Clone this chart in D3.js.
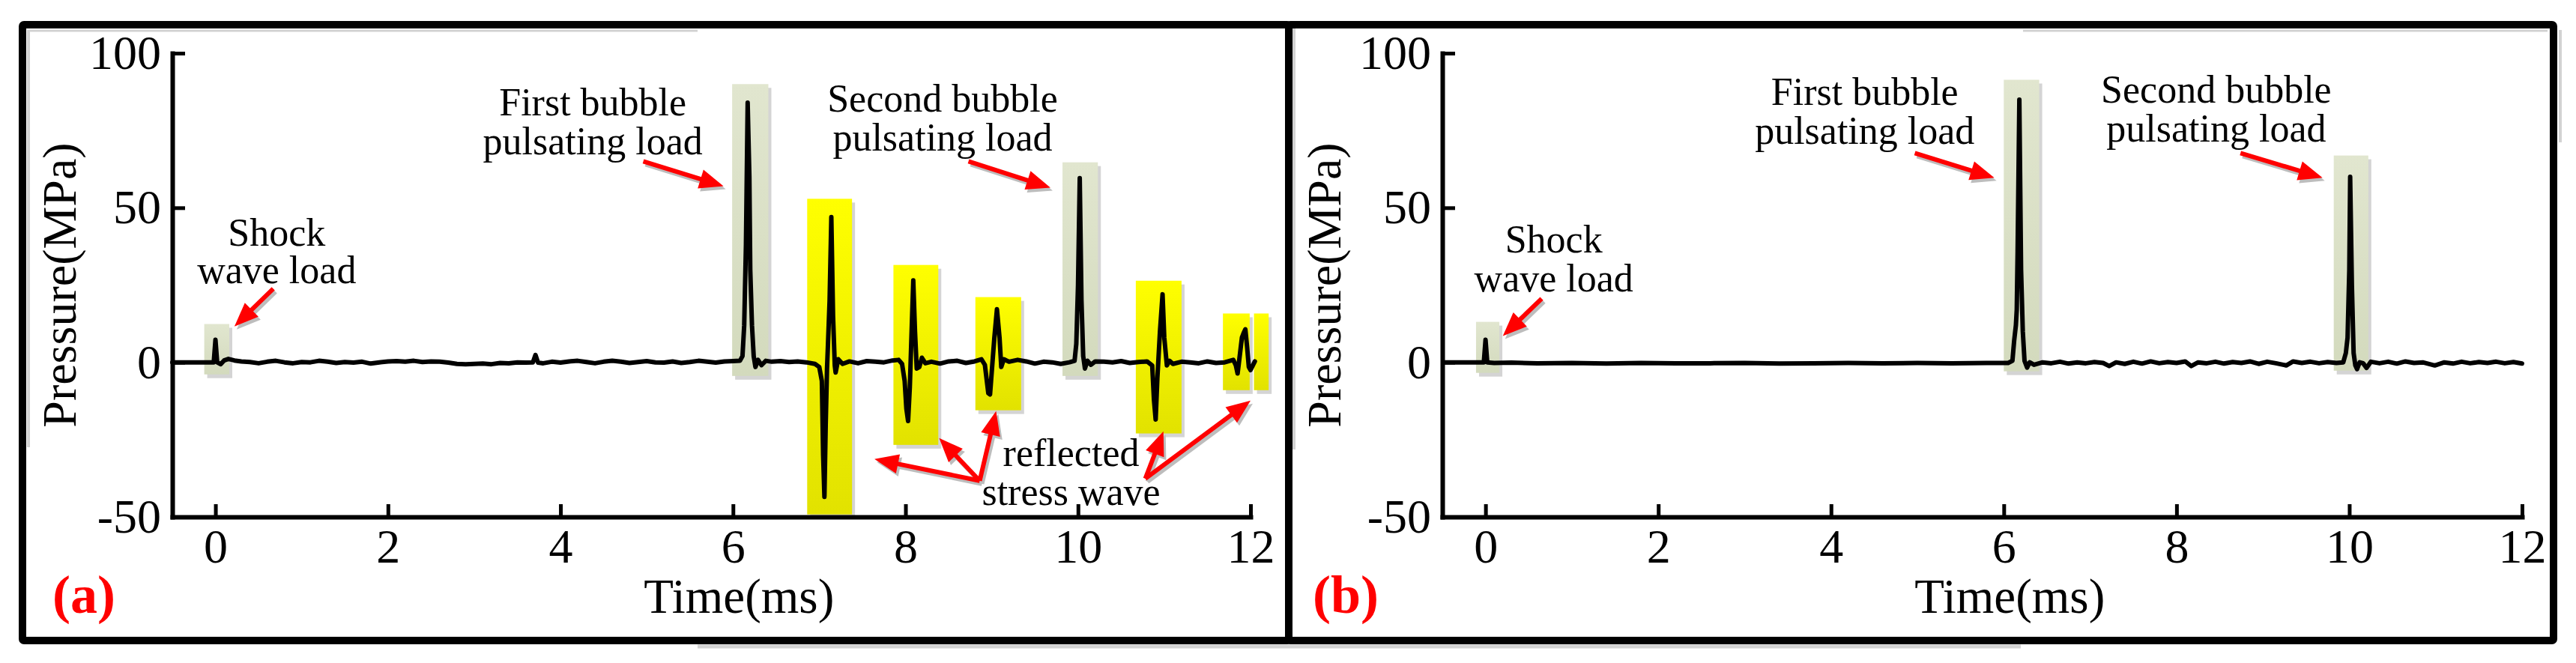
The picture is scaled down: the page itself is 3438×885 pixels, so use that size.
<!DOCTYPE html>
<html><head><meta charset="utf-8">
<script src="https://cdn.jsdelivr.net/npm/d3@7"></script>
<style>
html,body{margin:0;padding:0;background:#fff;}
svg{display:block;}
text{font-family:"Liberation Serif","Times New Roman",Times,serif;}
</style>
</head><body>
<svg id="chart" width="3438" height="885"></svg>
<script>
// ---------------- DATA ----------------
const xTicks = [0, 2, 4, 6, 8, 10, 12];
const yTicks = [-50, 0, 50, 100];
const xLabel = "Time(ms)";
const yLabel = "Pressure(MPa)";
const panelTags = ["(a)", "(b)"];

// Panel (a): pressure history with reflected stress waves
const timeA = [-0.50,-0.20,-0.02,0.00,0.02,0.06,0.10,0.15,0.22,0.30,0.40,0.50,0.60,0.70,0.80,0.90,1.00,1.10,1.20,1.30,1.40,1.50,1.60,1.70,1.80,1.90,2.00,2.10,2.20,2.30,2.40,2.50,2.60,2.70,2.80,2.90,3.00,3.10,3.20,3.30,3.40,3.50,3.60,3.68,3.71,3.74,3.80,3.90,4.00,4.10,4.20,4.30,4.40,4.50,4.60,4.70,4.80,4.90,5.00,5.10,5.20,5.30,5.40,5.50,5.60,5.70,5.80,5.90,6.00,6.08,6.11,6.13,6.15,6.17,6.19,6.20,6.22,6.24,6.26,6.29,6.33,6.38,6.45,6.55,6.65,6.75,6.85,6.95,7.00,7.03,7.045,7.06,7.075,7.09,7.10,7.12,7.14,7.16,7.18,7.19,7.22,7.27,7.35,7.45,7.55,7.65,7.75,7.85,7.92,7.96,7.99,8.01,8.03,8.05,8.065,8.08,8.09,8.11,8.13,8.16,8.19,8.23,8.30,8.40,8.50,8.60,8.70,8.80,8.88,8.92,8.96,8.98,9.00,9.03,9.06,9.09,9.11,9.14,9.20,9.30,9.40,9.50,9.60,9.70,9.80,9.90,9.96,9.98,10.00,10.02,10.04,10.06,10.08,10.11,10.15,10.20,10.30,10.40,10.50,10.60,10.70,10.80,10.86,10.88,10.90,10.92,10.95,10.98,11.00,11.03,11.06,11.10,11.20,11.30,11.40,11.50,11.60,11.70,11.80,11.83,11.85,11.87,11.90,11.92,11.94,11.96,11.98,12.00,12.05];
const pressureA = [0.0,0.0,0.0,7.3,0.0,-0.6,0.6,1.1,0.6,0.3,0.1,-0.3,0.2,0.5,0.0,-0.3,0.1,0.0,0.5,0.2,-0.2,0.1,-0.1,0.2,-0.4,0.0,0.3,0.4,0.2,0.5,0.1,0.3,0.2,-0.1,-0.5,-0.6,-0.5,-0.4,-0.6,-0.2,-0.3,0.0,-0.1,0.0,2.4,-0.1,-0.3,0.2,-0.1,0.3,0.5,0.1,-0.3,0.2,0.5,0.2,-0.2,0.1,0.4,0.0,-0.1,0.3,-0.2,0.1,0.5,0.2,-0.1,0.3,0.4,0.5,2.0,12.0,38.0,84.0,60.0,30.0,12.0,2.0,-1.5,0.8,-0.9,0.5,0.2,0.4,0.1,0.3,0.0,-0.5,-1.5,-6.0,-30.0,-43.5,-20.0,-2.0,5.0,20.0,47.0,15.0,-1.0,-3.3,1.0,-0.5,0.3,-0.3,0.4,0.2,0.0,0.6,0.8,-0.5,-6.0,-15.0,-19.0,-8.0,5.0,18.0,26.5,10.0,-2.0,-1.5,1.5,-0.3,0.2,-0.4,0.3,0.5,-0.2,0.3,1.0,-0.8,-10.0,-10.4,-3.0,8.0,17.2,8.0,-1.5,1.0,0.2,0.8,0.3,-0.4,0.2,0.0,-0.5,0.0,0.5,6.0,25.0,59.6,20.0,2.0,-2.0,0.5,-0.8,0.3,0.2,0.0,0.4,-0.2,0.1,0.3,-1.0,-12.0,-18.5,-5.0,10.0,22.0,8.0,-1.0,0.5,-0.5,0.2,0.0,-0.3,0.3,-0.2,0.0,0.8,-1.0,-3.6,1.0,8.0,9.5,10.7,5.0,-1.5,-2.5,0.3];

// Panel (b): pressure history without reflected waves
const timeB = [-0.47,-0.20,-0.02,0.00,0.02,0.10,0.30,0.60,1.00,1.40,1.80,2.20,2.60,3.00,3.40,3.80,4.20,4.60,5.00,5.40,5.80,6.05,6.10,6.12,6.14,6.15,6.16,6.18,6.20,6.22,6.24,6.27,6.30,6.35,6.45,6.55,6.65,6.75,6.85,6.95,7.05,7.15,7.22,7.30,7.40,7.50,7.60,7.70,7.80,7.90,8.00,8.10,8.17,8.25,8.35,8.45,8.55,8.65,8.75,8.85,8.95,9.05,9.15,9.27,9.35,9.45,9.55,9.65,9.75,9.85,9.93,9.96,9.98,10.00,10.01,10.03,10.05,10.07,10.09,10.12,10.16,10.20,10.25,10.35,10.45,10.55,10.65,10.75,10.85,10.99,11.10,11.20,11.30,11.40,11.50,11.60,11.70,11.80,11.90,12.00];
const pressureB = [0.0,0.0,0.0,7.3,0.0,-0.2,-0.1,-0.3,-0.2,-0.4,-0.2,-0.3,-0.3,-0.2,-0.4,-0.3,-0.2,-0.3,-0.2,-0.3,-0.2,-0.2,0.5,7.0,12.0,17.0,36.0,85.0,30.0,10.0,0.5,-1.7,0.0,-0.8,0.0,-0.3,0.2,-0.4,0.0,-0.3,0.1,-0.2,-1.2,0.0,-0.5,0.2,-0.4,0.3,-0.3,0.1,-0.2,0.3,-1.2,0.0,-0.3,0.2,-0.4,0.1,-0.2,0.3,-0.5,0.2,-0.3,-1.0,0.3,-0.2,0.2,-0.3,0.1,-0.2,0.0,3.0,8.0,30.0,60.0,25.0,3.0,-1.0,-2.2,0.0,-0.3,-1.8,0.2,-0.3,0.2,-0.4,0.3,-0.2,0.0,-1.0,0.0,-0.4,0.2,-0.3,0.1,-0.2,0.2,-0.3,0.1,-0.4];

// Highlight boxes [t0, t1, pTop, pBottom, kind]
const boxesA = [
  {t0:-0.13, t1:0.16,  p0:12.4, p1:-3.9,  kind:"gray"},
  {t0:5.99,  t1:6.41,  p0:90.0, p1:-4.4,  kind:"gray"},
  {t0:6.86,  t1:7.38,  p0:52.9, p1:-49.2, kind:"yellow"},
  {t0:7.86,  t1:8.38,  p0:31.5, p1:-26.7, kind:"yellow"},
  {t0:8.81,  t1:9.34,  p0:21.1, p1:-15.5, kind:"yellow"},
  {t0:9.82,  t1:10.23, p0:64.7, p1:-4.4,  kind:"gray"},
  {t0:10.67, t1:11.20, p0:26.4, p1:-23.0, kind:"yellow"},
  {t0:11.68, t1:11.99, p0:15.8, p1:-9.0,  kind:"yellow"},
  {t0:12.04, t1:12.21, p0:15.8, p1:-9.0,  kind:"yellow"}
];
const boxesB = [
  {t0:-0.11, t1:0.16,  p0:13.1, p1:-3.4, kind:"gray"},
  {t0:6.00,  t1:6.41,  p0:91.4, p1:-2.9, kind:"gray"},
  {t0:9.82,  t1:10.22, p0:66.9, p1:-2.7, kind:"gray"}
];

// Annotation arrows [from (t,p) -> tip (t,p)]
const arrowsA = [
  {t0:0.67, p0:23.8, t1:0.22, p1:11.6},
  {t0:4.96, p0:65.0, t1:5.89, p1:57.0},
  {t0:8.73, p0:65.0, t1:9.68, p1:56.5},
  {t0:8.86, p0:-38.3, t1:7.64, p1:-31.3},
  {t0:8.86, p0:-38.3, t1:8.39, p1:-24.5},
  {t0:8.86, p0:-38.3, t1:9.05, p1:-15.8},
  {t0:10.78, p0:-37.6, t1:10.99, p1:-22.3},
  {t0:10.78, p0:-37.6, t1:12.00, p1:-12.4}
];
const arrowsB = [
  {t0:0.65, p0:20.6, t1:0.20, p1:8.5},
  {t0:4.97, p0:67.7, t1:5.89, p1:59.7},
  {t0:8.74, p0:67.7, t1:9.69, p1:59.7}
];

// Annotation texts (centre time, baseline pressure of each line)
const notesA = [
  {t:0.71, p:[37.8, 25.5], lines:["Shock", "wave load"]},
  {t:4.375, p:[79.8, 67.4], lines:["First bubble", "pulsating load"]},
  {t:8.43, p:[81.2, 68.6], lines:["Second bubble", "pulsating load"]},
  {t:9.92, p:[-33.5, -46.1], lines:["reflected", "stress wave"]}
];
const notesB = [
  {t:0.79, p:[35.6, 23.0], lines:["Shock", "wave load"]},
  {t:4.39, p:[83.4, 70.6], lines:["First bubble", "pulsating load"]},
  {t:8.46, p:[84.1, 71.5], lines:["Second bubble", "pulsating load"]}
];

// ---------------- DRAW ----------------
const svg = d3.select("#chart");
const defs = svg.append("defs");
const gY = defs.append("linearGradient").attr("id","gYellow").attr("x1",0).attr("y1",0).attr("x2",0).attr("y2",1);
gY.append("stop").attr("offset","0%").attr("stop-color","#ffff00");
gY.append("stop").attr("offset","100%").attr("stop-color","#e2e200");
const gG = defs.append("linearGradient").attr("id","gGray").attr("x1",0).attr("y1",0).attr("x2",0).attr("y2",1);
gG.append("stop").attr("offset","0%").attr("stop-color","#e1e6cf");
gG.append("stop").attr("offset","100%").attr("stop-color","#d3dabd");

const panels = [
  {tag:panelTags[0], frame:[30,1720], xr:[230,1669], titleX:101, tagX:70,
   time:timeA, pres:pressureA, boxes:boxesA, arrows:arrowsA, notes:notesA},
  {tag:panelTags[1], frame:[1720,3408], xr:[1925,3366], titleX:1789, tagX:1752,
   time:timeB, pres:pressureB, boxes:boxesB, arrows:arrowsB, notes:notesB}
];
const frameTop = 33, frameBottom = 855;

// light gray shadow lines of the frame
const sh = svg.append("g").attr("stroke","#d2d2d2").attr("fill","none");
sh.append("line").attr("x1",38).attr("x2",931).attr("y1",41).attr("y2",41).attr("stroke-width",3);
sh.append("line").attr("x1",38).attr("x2",38).attr("y1",40).attr("y2",597).attr("stroke-width",4);
sh.append("line").attr("x1",1727).attr("x2",1727).attr("y1",38).attr("y2",600).attr("stroke-width",4);
sh.append("line").attr("x1",931).attr("x2",2697).attr("y1",863).attr("y2",863).attr("stroke-width",5);
sh.append("line").attr("x1",3417).attr("x2",3417).attr("y1",40).attr("y2",190).attr("stroke-width",4);
sh.append("line").attr("x1",2700).attr("x2",3400).attr("y1",41).attr("y2",41).attr("stroke-width",3);

// frames
panels.forEach(p => {
  svg.append("rect").attr("x",p.frame[0]).attr("y",frameTop)
    .attr("width",p.frame[1]-p.frame[0]).attr("height",frameBottom-frameTop)
    .attr("fill","none").attr("stroke","#000").attr("stroke-width",10).attr("rx",2);
});

function drawArrow(g, x0, y0, x1, y1, color) {
  const a = Math.atan2(y1-y0, x1-x0);
  const L = 32, W = 13;
  const bx = x1 - L*Math.cos(a), by = y1 - L*Math.sin(a);
  g.append("line").attr("x1",x0).attr("y1",y0).attr("x2",bx+2*Math.cos(a)).attr("y2",by+2*Math.sin(a))
    .attr("stroke",color).attr("stroke-width",6);
  g.append("path").attr("d",`M${x1},${y1}L${bx+W*Math.sin(a)},${by-W*Math.cos(a)}L${bx-W*Math.sin(a)},${by+W*Math.cos(a)}Z`)
    .attr("fill",color);
}

panels.forEach(p => {
  const x = d3.scaleLinear().domain([-0.5,12]).range(p.xr);
  const y = d3.scaleLinear().domain([-50,100]).range([690,71]);
  const g = svg.append("g");

  // highlight boxes with shadows
  p.boxes.forEach(b => {
    g.append("rect").attr("x",x(b.t0)+4).attr("y",y(b.p0)+5)
      .attr("width",x(b.t1)-x(b.t0)).attr("height",y(b.p1)-y(b.p0)).attr("fill","#d4d4d4");
  });
  p.boxes.forEach(b => {
    g.append("rect").attr("x",x(b.t0)).attr("y",y(b.p0))
      .attr("width",x(b.t1)-x(b.t0)).attr("height",y(b.p1)-y(b.p0))
      .attr("fill", b.kind==="yellow" ? "url(#gYellow)" : "url(#gGray)");
  });

  // signal
  const pts = p.time.map((t,i) => [t, p.pres[i]]);
  g.append("path").datum(pts)
    .attr("d", d3.line().x(d=>x(d[0])).y(d=>y(d[1])))
    .attr("fill","none").attr("stroke","#000").attr("stroke-width",6)
    .attr("stroke-linejoin","round").attr("stroke-linecap","round");

  // axes
  const fmt = d => String(d);
  const ax = g.append("g").attr("transform",`translate(0,${y(-50)})`)
    .call(d3.axisBottom(x).tickValues(xTicks).tickSizeInner(-17).tickSizeOuter(0).tickPadding(16).tickFormat(fmt));
  const ay = g.append("g").attr("transform",`translate(${x(-0.5)},0)`)
    .call(d3.axisLeft(y).tickValues(yTicks).tickSizeInner(-17).tickSizeOuter(0).tickPadding(15).tickFormat(fmt));
  [ax, ay].forEach(a => {
    a.attr("font-family",null).attr("font-size",null);
    a.select(".domain").attr("stroke","#000").attr("stroke-width",6).attr("stroke-linecap","square");
    a.selectAll(".tick line").attr("stroke","#000").attr("stroke-width",5);
    a.selectAll(".tick text").attr("fill","#000").style("font-size","64px")
      .style("font-family",'"Liberation Serif","Times New Roman",serif');
  });

  // axis titles
  g.append("text").attr("x",x(6)+8).attr("y",818).attr("text-anchor","middle")
    .style("font-size","65px").text(xLabel);
  g.append("text").attr("transform",`translate(${p.titleX},${(y(-50)+y(100))/2}) rotate(-90)`)
    .attr("text-anchor","middle").style("font-size","64px").text(yLabel);

  // panel tag
  g.append("text").attr("x",p.tagX).attr("y",818).attr("fill","#ff0000")
    .style("font-size","72px").style("font-weight","bold").text(p.tag);

  // annotation texts
  p.notes.forEach(n => {
    n.lines.forEach((ln,i) => {
      g.append("text").attr("x",x(n.t)).attr("y",y(n.p[i])).attr("text-anchor","middle")
        .style("font-size","52px").text(ln);
    });
  });

  // arrows (shadow then red)
  const shadow = g.append("g");
  const red = g.append("g");
  p.arrows.forEach(a => {
    drawArrow(shadow, x(a.t0)+3, y(a.p0)+4, x(a.t1)+3, y(a.p1)+4, "#bdbdbd");
    drawArrow(red, x(a.t0), y(a.p0), x(a.t1), y(a.p1), "#ff0000");
  });
});
</script>
</body></html>
